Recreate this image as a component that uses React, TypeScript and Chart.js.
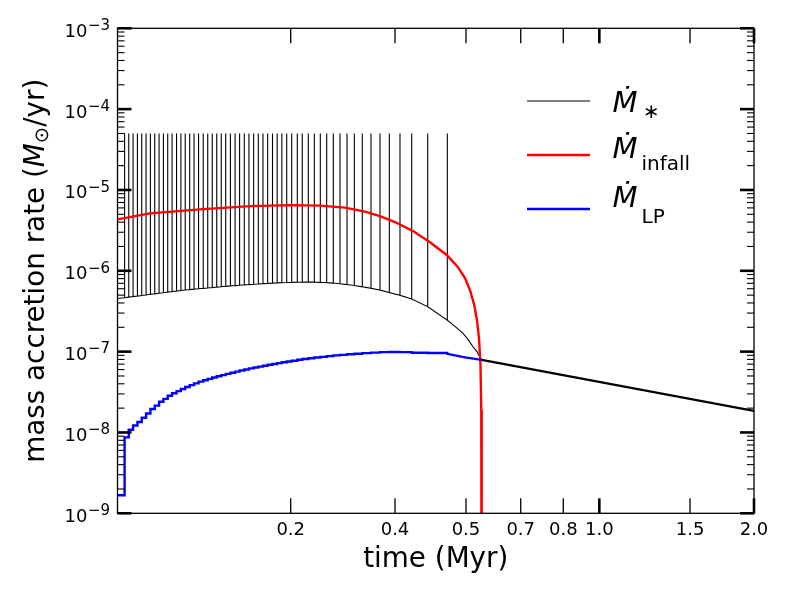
import React, { useEffect, useRef } from 'react';
import { Chart, LinearScale, registerables } from 'chart.js';

// ---------- data (time in Myr, rates in Msun/yr) ----------
const xMin = 0.1;
const xMax = 2.0;
const xTickValues = [0.2, 0.4, 0.5, 0.7, 0.8, 1.0, 1.5, 2.0];
const xTickLabels = ['0.2', '0.4', '0.5', '0.7', '0.8', '1.0', '1.5', '2.0'];

const yMin = 1e-9;
const yMax = 1e-3;
const yTickValues = [1e-9, 1e-8, 1e-7, 1e-6, 1e-5, 1e-4, 1e-3];
const yTickExponents = ['\u22129', '\u22128', '\u22127', '\u22126', '\u22125', '\u22124', '\u22123'];

// episodic bursts of the stellar accretion rate
const spikeTimes = [
  0.1041, 0.1065, 0.1090, 0.1115, 0.1140, 0.1165, 0.1190, 0.1215, 0.1240, 0.1265,
  0.1290, 0.1315, 0.1341, 0.1366, 0.1391, 0.1417, 0.1442, 0.1468, 0.1495, 0.1521,
  0.1547, 0.1573, 0.1599, 0.1625, 0.1652, 0.1679, 0.1705, 0.1732, 0.1759, 0.1786,
  0.1813, 0.1840, 0.1867, 0.1895, 0.1922, 0.1949, 0.1977,
  0.2019, 0.2127, 0.2222, 0.2338, 0.2453, 0.2568, 0.2690, 0.2817, 0.2945, 0.3080,
  0.3220, 0.3373, 0.3540, 0.3712, 0.3891, 0.4070, 0.4235, 0.4461, 0.4737,
];
const spikeBase = [
  4.65e-7, 4.72e-7, 4.80e-7, 4.87e-7, 4.95e-7, 5.03e-7, 5.11e-7, 5.20e-7, 5.28e-7, 5.36e-7,
  5.45e-7, 5.53e-7, 5.62e-7, 5.71e-7, 5.79e-7, 5.86e-7, 5.93e-7, 6.00e-7, 6.07e-7, 6.14e-7,
  6.21e-7, 6.29e-7, 6.36e-7, 6.43e-7, 6.50e-7, 6.57e-7, 6.64e-7, 6.70e-7, 6.76e-7, 6.82e-7,
  6.88e-7, 6.93e-7, 6.98e-7, 7.03e-7, 7.08e-7, 7.12e-7, 7.16e-7,
  7.19e-7, 7.22e-7, 7.24e-7, 7.25e-7, 7.24e-7, 7.20e-7, 7.14e-7, 7.05e-7, 6.92e-7, 6.76e-7,
  6.58e-7, 6.35e-7, 6.08e-7, 5.78e-7, 5.38e-7, 4.98e-7, 4.48e-7, 3.60e-7, 2.45e-7,
];
const spikePeak = 5e-5;
const starStart = 4.55e-7;
const starDecayTimes = [0.4845, 0.4958, 0.5073, 0.5256, 0.5402, 0.5574];
const starDecayRates = [2.05e-7, 1.68e-7, 1.42e-7, 1.15e-7, 1.0e-7, 7.9e-8];
const starTailTimes = [0.5574, 2.0];
const starTailRates = [7.9e-8, 1.85e-8];

const infallTimes = [
  0.1, 0.1188, 0.1476, 0.1765, 0.1996, 0.2562, 0.3041, 0.3425, 0.3712, 0.4,
  0.4254, 0.4493, 0.4732, 0.4887, 0.4986, 0.5146, 0.5293, 0.5402, 0.5475, 0.5530,
  0.5559, 0.5574,
];
const infallRates = [
  4.33e-6, 5.13e-6, 5.75e-6, 6.32e-6, 6.5e-6, 6.41e-6, 6.05e-6, 5.4e-6, 4.75e-6, 4.01e-6,
  3.1e-6, 2.26e-6, 1.56e-6, 1.11e-6, 8.12e-7, 5.77e-7, 3.87e-7, 2.45e-7, 1.47e-7, 6.8e-8,
  1.89e-8, 1e-12,
];

const lpStart = 1.67e-9;
const lpAfterSpike = [
  8.7e-9, 1.08e-8, 1.22e-8, 1.35e-8, 1.52e-8, 1.72e-8, 1.95e-8, 2.15e-8, 2.4e-8, 2.6e-8,
  2.85e-8, 3.05e-8, 3.25e-8, 3.45e-8, 3.65e-8, 3.85e-8, 4.05e-8, 4.25e-8, 4.42e-8, 4.6e-8,
  4.78e-8, 4.95e-8, 5.12e-8, 5.3e-8, 5.48e-8, 5.66e-8, 5.84e-8, 6.02e-8, 6.2e-8, 6.37e-8,
  6.53e-8, 6.7e-8, 6.87e-8, 7.03e-8, 7.2e-8, 7.38e-8, 7.55e-8,
  7.72e-8, 7.92e-8, 8.1e-8, 8.28e-8, 8.45e-8, 8.62e-8, 8.8e-8, 8.98e-8, 9.12e-8, 9.27e-8,
  9.42e-8, 9.58e-8, 9.72e-8, 9.85e-8, 9.9e-8, 9.85e-8, 9.7e-8, 9.6e-8, 9.4e-8,
];
const lpDecayTimes = [0.4986, 0.5574];
const lpDecayRates = [8.5e-8, 7.9e-8];

const legendSubscripts = ['\u2217', 'infall', 'LP'];

// ---------- non-uniform time axis (tick values are not evenly spaced) ----------
const axisAnchorValues = [0.1, 0.2, 0.4, 0.5, 0.7, 0.8, 1.0, 1.5, 2.0];
const axisAnchorFractions = [0, 0.2721, 0.436, 0.5475, 0.6335, 0.7004, 0.757, 0.8995, 1];

function warpDecimal(v: number): number {
  const n = axisAnchorValues.length;
  let i = 1;
  while (i < n - 1 && v > axisAnchorValues[i]) i++;
  const v0 = axisAnchorValues[i - 1], v1 = axisAnchorValues[i];
  const f0 = axisAnchorFractions[i - 1], f1 = axisAnchorFractions[i];
  return f0 + ((v - v0) / (v1 - v0)) * (f1 - f0);
}
function unwarpDecimal(d: number): number {
  const n = axisAnchorFractions.length;
  let i = 1;
  while (i < n - 1 && d > axisAnchorFractions[i]) i++;
  const v0 = axisAnchorValues[i - 1], v1 = axisAnchorValues[i];
  const f0 = axisAnchorFractions[i - 1], f1 = axisAnchorFractions[i];
  return v0 + ((d - f0) / (f1 - f0)) * (v1 - v0);
}

class WarpScale extends LinearScale {
  static id = 'warp';
  static defaults = LinearScale.defaults;
  getPixelForValue(value: any) {
    if (value === null || value === undefined || isNaN(value)) return NaN;
    return this.getPixelForDecimal(warpDecimal(value));
  }
  getValueForPixel(pixel: number) {
    return unwarpDecimal(this.getDecimalForPixel(pixel));
  }
}

Chart.register(...registerables, WarpScale as any);

const FONT = '"DejaVu Sans"';

function hLine(ctx: CanvasRenderingContext2D, x0: number, x1: number, y: number, w: number) {
  ctx.lineWidth = w;
  ctx.beginPath();
  ctx.moveTo(x0, y);
  ctx.lineTo(x1, y);
  ctx.stroke();
}
function vLine(ctx: CanvasRenderingContext2D, x: number, y0: number, y1: number, w: number) {
  ctx.lineWidth = w;
  ctx.beginPath();
  ctx.moveTo(x, y0);
  ctx.lineTo(x, y1);
  ctx.stroke();
}

const decorPlugin = {
  id: 'decor',
  afterDraw(chart: any) {
    const { ctx, chartArea: a, scales } = chart;
    const xs = scales.x;
    const ys = scales.y;
    ctx.save();
    ctx.strokeStyle = '#000';
    ctx.fillStyle = '#000';
    ctx.lineCap = 'butt';

    // frame
    ctx.lineWidth = 1.3;
    ctx.strokeRect(a.left, a.top, a.right - a.left, a.bottom - a.top);

    // y ticks (inward, both sides)
    yTickValues.forEach((v, i) => {
      const y = ys.getPixelForValue(v);
      hLine(ctx, a.left, a.left + 14, y, 2.6);
      hLine(ctx, a.right - 14, a.right, y, 2.6);
      if (i < yTickValues.length - 1) {
        for (let k = 2; k <= 9; k++) {
          const yy = ys.getPixelForValue(v * k);
          hLine(ctx, a.left, a.left + 7, yy, 1.1);
          hLine(ctx, a.right - 7, a.right, yy, 1.1);
        }
      }
    });

    // x ticks (inward, bottom and top)
    xTickValues.forEach((v) => {
      const x = xs.getPixelForValue(v);
      const w = Number.isInteger(v) ? 2.6 : 1.3;
      vLine(ctx, x, a.bottom, a.bottom - 15, w);
      vLine(ctx, x, a.top, a.top + 15, w);
    });

    // y tick labels 10^e
    ctx.textAlign = 'right';
    ctx.textBaseline = 'alphabetic';
    yTickValues.forEach((v, i) => {
      const y = ys.getPixelForValue(v);
      ctx.font = `15px ${FONT}`;
      const ew = ctx.measureText(yTickExponents[i]).width;
      ctx.fillText(yTickExponents[i], a.left - 7.5, y + 1.7);
      ctx.font = `18px ${FONT}`;
      ctx.fillText('10', a.left - 7.5 - ew - 0.5, y + 8.4);
    });

    // x title
    ctx.textAlign = 'center';
    ctx.font = `27.8px ${FONT}`;
    ctx.fillText('time (Myr)', (a.left + a.right) / 2, 567);

    // y title (rotated, with italic M and subscript sun symbol)
    const segs = [
      { t: 'mass accretion rate (', f: `27.8px ${FONT}`, dy: 0 },
      { t: 'M', f: `italic 27.8px ${FONT}`, dy: 0 },
      { t: '\u2299', f: `19.5px ${FONT}`, dy: 4 },
      { t: '/yr)', f: `27.8px ${FONT}`, dy: 0 },
    ];
    let total = 0;
    const widths = segs.map((s) => {
      ctx.font = s.f;
      const w = ctx.measureText(s.t).width;
      total += w;
      return w;
    });
    ctx.save();
    ctx.translate(44, (a.top + a.bottom) / 2);
    ctx.rotate(-Math.PI / 2);
    ctx.textAlign = 'left';
    let cx = -total / 2;
    segs.forEach((s, i) => {
      ctx.font = s.f;
      ctx.fillText(s.t, cx, s.dy);
      cx += widths[i];
    });
    ctx.restore();

    // legend: star, infall, LP
    const entries = [3, 2, 1].map((idx) => chart.data.datasets[idx]);
    const lineY = [101, 155, 209];
    const lineW = [1.2, 2.4, 2.4];
    const mBase = [111.7, 158, 207];
    const subBase = [118, 170, 223];
    entries.forEach((d: any, i: number) => {
      ctx.strokeStyle = d.borderColor;
      hLine(ctx, 527, 590, lineY[i], lineW[i]);
      ctx.fillStyle = '#000';
      ctx.textAlign = 'left';
      ctx.font = `italic 29px ${FONT}`;
      ctx.fillText('\u1E40', 612.5, mBase[i]);
      ctx.font = `20px ${FONT}`;
      ctx.fillText(legendSubscripts[i], i === 0 ? 643 : 641.5, subBase[i]);
    });

    ctx.restore();
  },
};

export default function App() {
  const ref = useRef<HTMLCanvasElement>(null);

  useEffect(() => {
    const starPts: { x: number; y: number }[] = [{ x: xMin, y: starStart }];
    spikeTimes.forEach((t, i) => {
      starPts.push({ x: t, y: spikeBase[i] }, { x: t, y: spikePeak }, { x: t, y: spikeBase[i] });
    });
    starDecayTimes.forEach((t, i) => starPts.push({ x: t, y: starDecayRates[i] }));

    const tailPts = starTailTimes.map((t, i) => ({ x: t, y: starTailRates[i] }));
    const infallPts = infallTimes.map((t, i) => ({ x: t, y: infallRates[i] }));

    const lpPts: { x: number; y: number }[] = [{ x: xMin, y: lpStart }];
    let prev = lpStart;
    spikeTimes.forEach((t, i) => {
      lpPts.push({ x: t, y: prev }, { x: t, y: lpAfterSpike[i] });
      prev = lpAfterSpike[i];
    });
    lpDecayTimes.forEach((t, i) => lpPts.push({ x: t, y: lpDecayRates[i] }));

    const common = { pointRadius: 0, tension: 0, fill: false };

    const chart = new Chart(ref.current as HTMLCanvasElement, {
      type: 'line',
      data: {
        datasets: [
          { ...common, label: 'star tail', data: tailPts, borderColor: '#000000', borderWidth: 2.2 },
          { ...common, label: 'LP', data: lpPts, borderColor: '#0000ff', borderWidth: 2.4 },
          { ...common, label: 'infall', data: infallPts, borderColor: '#ff0000', borderWidth: 2.4 },
          { ...common, label: 'star', data: starPts, borderColor: '#000000', borderWidth: 1.1 },
        ],
      },
      options: {
        responsive: true,
        maintainAspectRatio: false,
        animation: false,
        events: [],
        layout: { padding: { left: 0, right: 35, top: 28.3, bottom: 0 } },
        plugins: { legend: { display: false }, tooltip: { enabled: false } },
        scales: {
          x: {
            type: 'warp' as any,
            min: xMin,
            max: xMax,
            grid: { display: false, drawTicks: false },
            border: { display: false },
            afterBuildTicks: (s: any) => {
              s.ticks = xTickValues.map((v) => ({ value: v }));
            },
            afterFit: (s: any) => {
              s.height = 78.7;
            },
            ticks: {
              autoSkip: false,
              maxRotation: 0,
              minRotation: 0,
              padding: 6,
              color: '#000',
              font: { family: 'DejaVu Sans', size: 18 },
              callback: (_v: any, i: number) => xTickLabels[i],
            },
          } as any,
          y: {
            type: 'logarithmic',
            min: yMin,
            max: yMax,
            grid: { display: false, drawTicks: false },
            border: { display: false },
            ticks: { display: false },
            afterFit: (s: any) => {
              s.width = 117.5;
            },
          },
        },
      },
      plugins: [decorPlugin],
    });

    return () => chart.destroy();
  }, []);

  return (
    <div style={{ position: 'fixed', left: 0, top: 0, width: 789, height: 592, background: '#ffffff' }}>
      <canvas ref={ref} />
    </div>
  );
}
